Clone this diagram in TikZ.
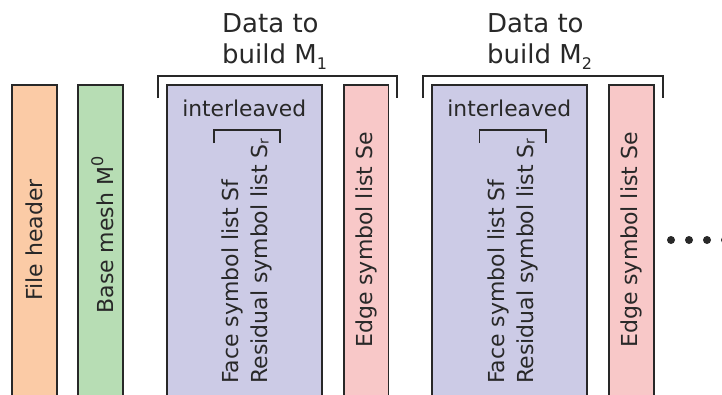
\documentclass[tikz,border=0pt]{standalone}
\usepackage{fontspec}
\setmainfont{DejaVu Sans}
\definecolor{cOrange}{RGB}{251,203,166}
\definecolor{cGreen}{RGB}{183,221,180}
\definecolor{cBlue}{RGB}{204,203,230}
\definecolor{cPink}{RGB}{248,200,200}
\definecolor{cLine}{RGB}{40,40,40}
\newcommand{\subr}{\raisebox{-1.5pt}{\fontsize{14}{14}\selectfont r}}
\newcommand{\supzero}{\raisebox{10pt}{\fontsize{16}{16}\selectfont 0}}
\newcommand{\subtitle}[1]{\raisebox{-5.5pt}{\fontsize{16}{16}\selectfont #1}}
\tikzset{
  block/.style={draw=cLine, line width=1.8pt, minimum height=320pt, inner sep=0pt, outer sep=0pt},
  bracketline/.style={draw=cLine, line width=1.8pt},
  smallbracket/.style={draw=cLine, line width=1.2pt},
  vtext/.style={rotate=90, inner sep=0pt, font=\fontsize{22}{26}\selectfont, text=cLine},
  htext/.style={inner sep=0pt, font=\fontsize{21.8}{26}\selectfont, text=cLine},
  title/.style={inner sep=0pt, font=\fontsize{26}{31}\selectfont, text=cLine},
  dotmark/.style={fill=cLine, circle, inner sep=0pt, minimum size=8pt}
}
\begin{document}
\begin{tikzpicture}[x=1pt,y=-1pt]
\useasboundingbox (0,0) rectangle (722,394);
\clip (0,0) rectangle (722,394);
% boxes
\node[block, fill=cOrange, minimum width=45pt] (fh) at (34.5,245) {};
\node[block, fill=cGreen, minimum width=45pt] (bm) at (100.5,245) {};
\node[block, fill=cBlue, minimum width=155pt] (b1) at (244.2,245) {};
\node[block, fill=cPink, minimum width=44.5pt] (e1) at (366.3,245) {};
\node[block, fill=cBlue, minimum width=155pt] (b2) at (509.3,245) {};
\node[block, fill=cPink, minimum width=44.5pt] (e2) at (631.5,245) {};
% box texts
\node[vtext, anchor=base] (tfh) at (42.5,240) {File header};
\node[vtext, anchor=base] (tbm) at (113,235) {Base mesh M\supzero};
\node[vtext, anchor=base] (te1) at (372.5,240) {Edge symbol list Se};
\node[vtext, anchor=base] (te2) at (637.5,240) {Edge symbol list Se};
\node[vtext, anchor=base west] (tf1) at (238.5,384) {Face symbol list Sf};
\node[vtext, anchor=base west] (tr1) at (267,384) {Residual symbol list S\subr};
\node[vtext, anchor=base west] (tf2) at (504,384) {Face symbol list Sf};
\node[vtext, anchor=base west] (tr2) at (533,384) {Residual symbol list S\subr};
\node[htext, anchor=base] (il1) at (244.2,116) {interleaved};
\node[htext, anchor=base] (il2) at (509.3,116) {interleaved};
% small brackets
\coordinate (s1a) at (214,143); \coordinate (s1b) at (214,130);
\coordinate (s1c) at (280,130); \coordinate (s1d) at (280,143);
\draw[smallbracket] (s1a) -- (s1b) -- (s1c) -- (s1d);
\coordinate (s2a) at (479.5,143); \coordinate (s2b) at (479.5,130);
\coordinate (s2c) at (546,130); \coordinate (s2d) at (546,143);
\draw[smallbracket] (s2a) -- (s2b) -- (s2c) -- (s2d);
% big brackets
\coordinate (g1a) at (158,98); \coordinate (g1b) at (158,76);
\coordinate (g1c) at (397,76); \coordinate (g1d) at (397,98);
\draw[bracketline] (g1a) -- (g1b) -- (g1c) -- (g1d);
\coordinate (g2a) at (423,98); \coordinate (g2b) at (423,76);
\coordinate (g2c) at (663,76); \coordinate (g2d) at (663,98);
\draw[bracketline] (g2a) -- (g2b) -- (g2c) -- (g2d);
% titles
\node[title, anchor=base west] (t1a) at (222,32.5) {Data to};
\node[title, anchor=base west] (t1b) at (222,63.5) {build M\subtitle{1}};
\node[title, anchor=base west] (t2a) at (487,32.5) {Data to};
\node[title, anchor=base west] (t2b) at (487,63.5) {build M\subtitle{2}};
% dots
\node[dotmark] (d1) at (671,240) {};
\node[dotmark] (d2) at (689,240) {};
\node[dotmark] (d3) at (707,240) {};
\node[dotmark] (d4) at (725,240) {};
\end{tikzpicture}
\end{document}
